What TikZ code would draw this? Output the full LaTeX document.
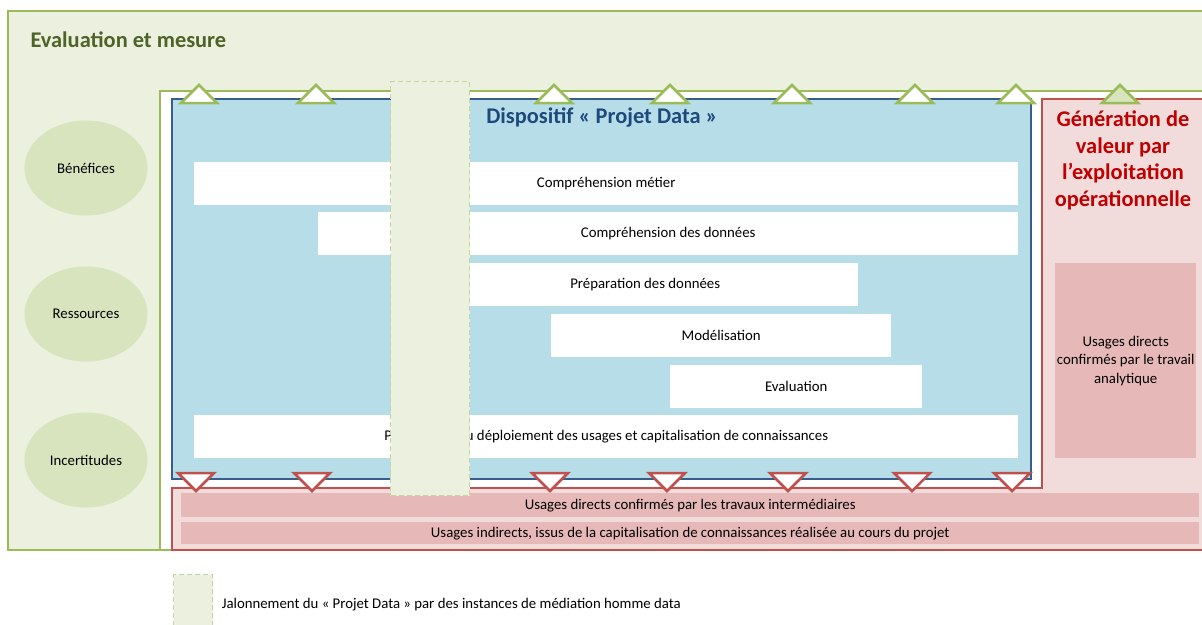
\documentclass[tikz,border=0pt]{standalone}
\usepackage{fontspec}
\setmainfont{Carlito}
\usetikzlibrary{positioning,shapes.geometric}
\definecolor{evGreen}{HTML}{9BBB59}
\definecolor{evFill}{HTML}{EBF1DE}
\definecolor{evEllipse}{HTML}{D7E4BD}
\definecolor{evTitle}{HTML}{4F6228}
\definecolor{pdBlue}{HTML}{385D8A}
\definecolor{pdFill}{HTML}{B7DEE8}
\definecolor{pdTitle}{HTML}{1F497D}
\definecolor{gvRed}{HTML}{C0504D}
\definecolor{gvFill}{HTML}{F2DCDB}
\definecolor{gvBar}{HTML}{E6B9B8}
\definecolor{gvTitle}{HTML}{C00000}
\definecolor{jlDash}{HTML}{C3D69B}
\tikzset{
    % phases du projet
    phase/.style={rectangle,fill=white,anchor=north west,minimum height=43pt,inner sep=0pt,font=\fontsize{14.8}{17}\selectfont},
    % usages (bandeaux roses)
    usage/.style={rectangle,fill=gvBar,anchor=north west,inner sep=0pt,align=center,font=\fontsize{14.8}{18.5}\selectfont},
    critere/.style={ellipse,fill=evEllipse,minimum width=123pt,minimum height=95pt,inner sep=0pt,font=\fontsize{14.8}{17}\selectfont},
    jalon/.style={rectangle,draw=jlDash,fill=evFill,line width=1.3pt,dash pattern=on 5pt off 3pt,anchor=north west,inner sep=0pt},
    jalonup/.style={draw=evGreen,fill=white,line width=2.5pt,line join=miter},
    jalondown/.style={draw=gvRed,fill=white,line width=2.5pt,line join=miter},
    titre/.style={font=\fontsize{22.4}{26.5}\selectfont\bfseries}
}
\begin{document}
\begin{tikzpicture}[x=1pt,y=-1pt]
\useasboundingbox (0,0) rectangle (1202,624);

% Evaluation et mesure
\draw[evGreen,fill=evFill,line width=2.5pt] (8,11) rectangle (1225,550);
\draw[evGreen,fill=white,line width=2.5pt] (160,91) rectangle (1225,550);
\node[titre,anchor=west,text=evTitle] (evaltitle) at (27,40) {Evaluation et mesure};
\node[critere] (benefices) at (86,168) {Bénéfices};
\node[critere] (ressources) at (86,314) {Ressources};
\node[critere] (incertitudes) at (86,460) {Incertitudes};

% Dispositif Projet Data
\draw[pdBlue,fill=pdFill,line width=2.5pt] (172,99) rectangle (1031,479);
\node[titre,text=pdTitle] (pdtitle) at (602,118) {Dispositif « Projet Data »};
\node[phase,minimum width=824pt] (metier) at (194,162) {Compréhension métier};
\node[phase,minimum width=700pt] (donnees) at (318,212) {Compréhension des données};
\node[phase,minimum width=426pt] (preparation) at (432,263) {Préparation des données};
\node[phase,minimum width=340pt] (modelisation) at (551,314) {Modélisation};
\node[phase,minimum width=252pt] (evaluation) at (670,365) {Evaluation};
\node[phase,minimum width=824pt] (deploiement) at (194,415) {Préparation du déploiement des usages et capitalisation de connaissances};

% Generation de valeur
\draw[gvRed,fill=gvFill,line width=2.5pt] (172,488) -- (1042,488) -- (1042,99) -- (1225,99) -- (1225,550) -- (172,550) -- cycle;
\node[titre,text=gvTitle,align=center] (gvtitle) at (1123,160.5) {Génération de\\valeur par\\l’exploitation\\opérationnelle};
\node[usage,minimum width=141pt,minimum height=195pt] (directsana) at (1055,263) {Usages directs\\confirmés par le travail\\analytique};
\node[usage,minimum width=1018pt,minimum height=24pt] (directsint) at (181,493) {Usages directs confirmés par les travaux intermédiaires};
\node[usage,minimum width=1018pt,minimum height=22pt] (indirects) at (181,522) {Usages indirects, issus de la capitalisation de connaissances réalisée au cours du projet};

% jalons
\foreach \x in {199,316,554,670,792,915,1016}
    \draw[jalonup] (\x-18,103) -- (\x,85) -- (\x+18,103) -- cycle;
\draw[jalonup,fill=evEllipse] (1102,103) -- (1120,85) -- (1138,103) -- cycle;
\foreach \x in {196,312,550,667,788,912,1012}
    \draw[jalondown] (\x-18,473) -- (\x,491) -- (\x+18,473) -- cycle;
\node[jalon,minimum width=79pt,minimum height=414pt] (mediation) at (390,81) {};

% legende
\node[jalon,minimum width=39pt,minimum height=60pt] (legendbox) at (173,574) {};
\node[right=5pt of legendbox,font=\fontsize{14.8}{17}\selectfont] (legendtext) {Jalonnement du « Projet Data » par des instances de médiation homme data};

\end{tikzpicture}
\end{document}
